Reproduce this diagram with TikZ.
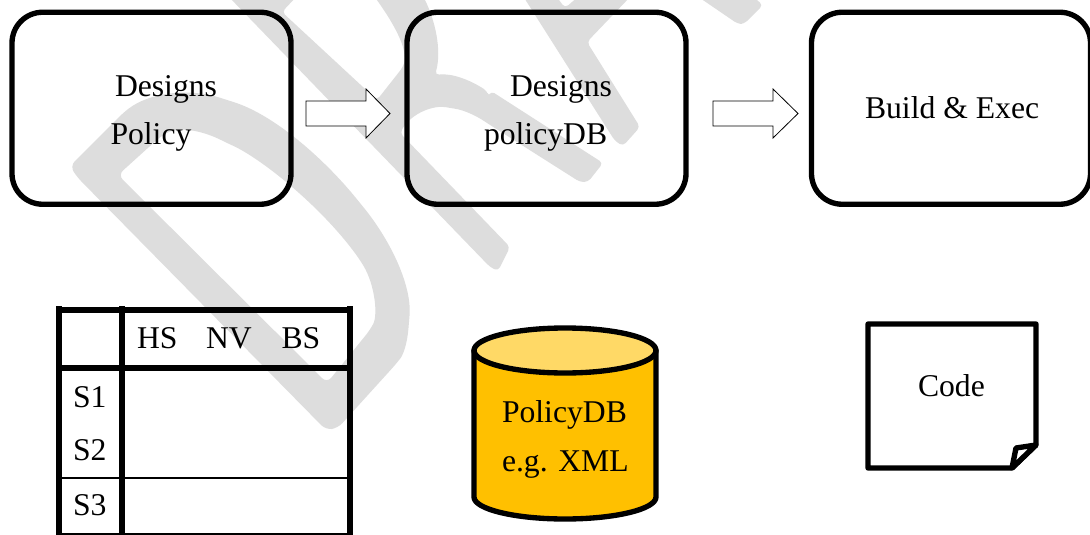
\documentclass[tikz,border=0pt]{standalone}
\usepackage{fontspec}
\setmainfont{Liberation Serif}
\definecolor{wmgray}{HTML}{DDDDDD}
\definecolor{cylbody}{HTML}{FFC000}
\definecolor{cyltop}{HTML}{FFD966}
\tikzset{
  wm/.style={fill=wmgray,draw=none},
  stagebox/.style={draw=black,line width=4pt,rounded corners=23pt,minimum width=209.25pt,minimum height=144pt,inner sep=0pt},
  txt/.style={anchor=base west,inner sep=0pt,outer sep=0pt,font=\fontsize{23.75pt}{28pt}\selectfont},
  blockarrow/.style={draw=black,fill=white,line width=0.6pt,line join=miter},
  thick tab/.style={line width=4.5pt},
  thin tab/.style={line width=1.6pt},
  heavy/.style={draw=black,line width=4pt,line join=round}
}
\begin{document}
\begin{tikzpicture}[x=0.75pt,y=-0.75pt]
\useasboundingbox (0,0) rectangle (1090,535);
\fill[white] (0,0) rectangle (1090,535);
% watermark
\fill[wm,even odd rule,rounded corners=5pt]
  (77,177) -- (70,166) -- (123,113)
  .. controls (150,92) and (190,88) .. (227,100)
  .. controls (275,115) and (325,160) .. (360,203)
  .. controls (390,240) and (412,285) .. (409,322)
  .. controls (407,345) and (403,355) .. (396,364)
  -- (338,428) -- (326,430) -- cycle
  (118,175) -- (160,137)
  .. controls (180,125) and (205,132) .. (227,143)
  .. controls (260,158) and (320,205) .. (360,260)
  .. controls (375,285) and (378,315) .. (370,330)
  -- (327,383) -- cycle;
\fill[wm,rounded corners=3pt]
  (228,-4) -- (490,267) -- (498,271) -- (510,247) -- (400,133)
  .. controls (412,112) and (435,105) .. (450,108)
  .. controls (465,110) and (478,117) .. (487,123)
  -- (580,182) -- (588,182) -- (603,163) -- (491,91) -- (489,97) -- (487,91)
  .. controls (470,80) and (452,73) .. (435,75)
  .. controls (442,50) and (435,20) .. (423,-4)
  -- (374,-4)
  .. controls (395,25) and (408,50) .. (403,67)
  -- (377,100) -- (282,12) -- (297,-4) -- cycle;
\fill[wm,rounded corners=3pt]
  (523,-4) -- (615,141) -- (623,146) -- (640,127) -- (587,42) -- (631,-4) -- (579,-4) -- (565,8) -- (556,-4) -- cycle;
\fill[wm,rounded corners=3pt]
  (697,-4) -- (738,24) -- (744,24) -- (763,5) -- (752,-4) -- cycle;
% stage boxes
\node[stagebox] (box1) at (151.5,108.25) {};
\node[stagebox] (box2) at (546.5,108.25) {};
\node[stagebox] (box3) at (951,108.25) {};
\node[txt] (t1a) at (115,96.5) {Designs};
\node[txt] (t1b) at (110.5,144.5) {Policy};
\node[txt] (t2a) at (510,96.5) {Designs};
\node[txt] (t2b) at (484,144.5) {policyDB};
\node[txt] (t3) at (865,118.5) {Build \& Exec};
% block arrows
\draw[blockarrow] (306,101) -- (366,101) -- (366,89) -- (390,113.5) -- (366,138) -- (366,126) -- (306,126) -- cycle;
\draw[blockarrow] (713,101) -- (773,101) -- (773,89) -- (798,113.5) -- (773,138) -- (773,126) -- (713,126) -- cycle;
% table
\draw[thick tab] (56.5,310) -- (352.5,310);
\draw[thick tab] (59,306) -- (59,535);
\draw[thick tab] (122,306) -- (122,535);
\draw[thick tab] (350,306) -- (350,535);
\draw[thick tab] (59,368) -- (350,368);
\draw[thin tab] (59,478) -- (350,478);
\draw[thin tab] (59,534.3) -- (350,534.3);
\node[txt] (hs) at (137,348.5) {HS};
\node[txt] (nv) at (206,348.5) {NV};
\node[txt] (bs) at (281.5,348.5) {BS};
\node[txt] (s1) at (73,407.5) {S1};
\node[txt] (s2) at (73,460) {S2};
\node[txt] (s3) at (73,515) {S3};
% cylinder
\path[heavy,fill=cylbody] (474,350.5) -- (474,497) arc[start angle=180,end angle=0,x radius=91,y radius=22] -- (656,350.5) -- cycle;
\draw[heavy,fill=cyltop] (565,350.5) ellipse [x radius=91,y radius=22.5];
\node[txt] (db1) at (502,422.5) {PolicyDB};
\node[txt] (db2) at (502,471.5) {e.g. XML};
% code page
\draw[heavy,fill=white] (868,324) -- (1036,324) -- (1036,445) -- (1012,468) -- (868,468) -- cycle;
\draw[heavy,fill=white] (1012,468) -- (1016,448) -- (1036,445) -- cycle;
\node[txt] (code) at (918,396) {Code};
\end{tikzpicture}
\end{document}
